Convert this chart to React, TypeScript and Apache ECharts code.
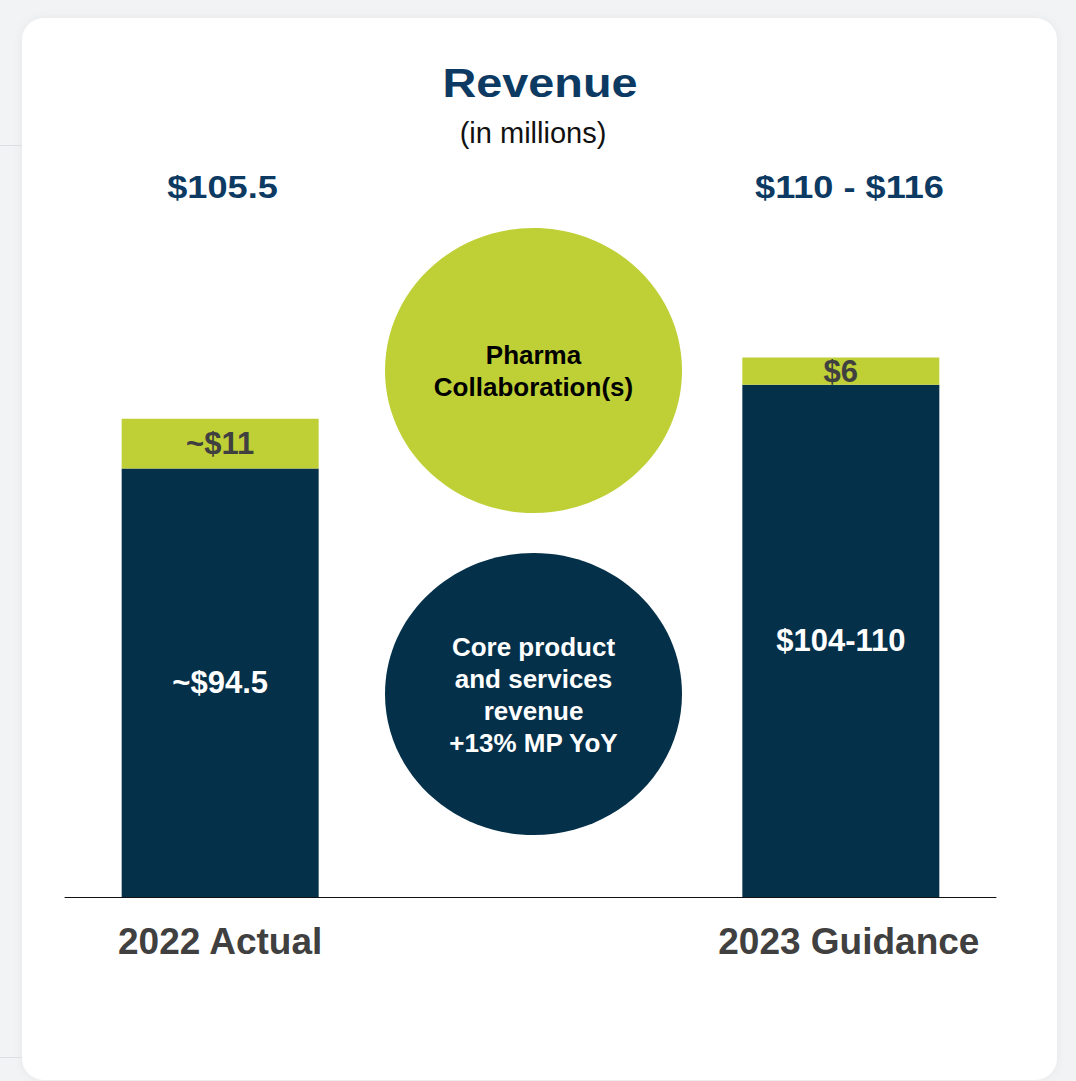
import React, { useEffect, useRef } from "react";
import * as echarts from "echarts";

const categories = ["2022 Actual", "", "2023 Guidance"];
const coreValues = [94.5, null, 113];
const pharmaValues = [11, null, 6];
const coreLabels = ["~$94.5", "", "$104-110"];
const pharmaLabels = ["~$11", "", "$6"];
const totalLabels = ["$105.5", "$110 - $116"];
const titleText = "Revenue";
const subtitleText = "(in millions)";
const pharmaCircleLines = ["Pharma", "Collaboration(s)"];
const coreCircleLines = ["Core product", "and services", "revenue", "+13% MP YoY"];

const NAVY = "#04304a";
const GREEN = "#bfd036";
const TITLE = "#0c3a62";
const GRAY = "#404040";
const FONT = "'Liberation Sans', Arial, Helvetica, sans-serif";

export default function App() {
  const ref = useRef<HTMLDivElement>(null);
  useEffect(() => {
    if (!ref.current) return;
    const chart = echarts.init(ref.current, undefined, { renderer: "svg" });
    const option: any = {
      animation: false,
      backgroundColor: "#f1f3f5",
      textStyle: { fontFamily: FONT },
      grid: { left: 65, right: 80, top: 353, bottom: 184, containLabel: false },
      xAxis: {
        type: "category",
        data: categories.map((c, i) =>
          i === 2 ? { value: c, textStyle: { padding: [0, 0, 0, 16] } } : c
        ),
        axisLine: { show: true, lineStyle: { color: "#111", width: 1 } },
        axisTick: { show: false },
        axisLabel: {
          margin: 26,
          fontSize: 37,
          fontWeight: "bold",
          color: GRAY,
          fontFamily: FONT,
          lineHeight: 37,
          interval: 0,
        },
        z: 5,
      },
      yAxis: { type: "value", min: 0, max: 120, show: false, splitLine: { show: false } },
      series: [
        {
          type: "bar",
          stack: "rev",
          data: coreValues,
          barWidth: 197,
          itemStyle: { color: NAVY },
          label: {
            show: true,
            position: "inside",
            color: "#ffffff",
            fontSize: 31,
            fontWeight: "bold",
            fontFamily: FONT,
            formatter: (p: any) => coreLabels[p.dataIndex],
          },
        },
        {
          type: "bar",
          stack: "rev",
          data: pharmaValues,
          barWidth: 197,
          itemStyle: { color: GREEN },
          label: {
            show: true,
            position: "inside",
            color: GRAY,
            fontSize: 31,
            fontWeight: "bold",
            fontFamily: FONT,
            formatter: (p: any) => pharmaLabels[p.dataIndex],
          },
        },
      ],
      graphic: [
        {
          type: "rect",
          z: -10,
          shape: { x: 22, y: 18, width: 1035, height: 1062, r: 22 },
          style: { fill: "#ffffff", shadowBlur: 10, shadowColor: "rgba(0,0,0,0.05)" },
        },
        { type: "line", z: -10, shape: { x1: 0, y1: 145.5, x2: 22, y2: 145.5 }, style: { stroke: "#dcdee1", lineWidth: 1 } },
        { type: "line", z: -10, shape: { x1: 0, y1: 1057.5, x2: 22, y2: 1057.5 }, style: { stroke: "#dcdee1", lineWidth: 1 } },
        {
          type: "text",
          x: 540,
          y: 83,
          scaleX: 1.17,
          style: { text: titleText, fontSize: 40, fontWeight: "bold", fill: TITLE, align: "center", verticalAlign: "middle", fontFamily: FONT },
        },
        {
          type: "text",
          x: 533,
          y: 133,
          style: { text: subtitleText, fontSize: 29, fill: "#111", align: "center", verticalAlign: "middle", fontFamily: FONT },
        },
        {
          type: "text",
          x: 222.5,
          y: 187,
          scaleX: 1.13,
          style: { text: totalLabels[0], fontSize: 32, fontWeight: "bold", fill: TITLE, align: "center", verticalAlign: "middle", fontFamily: FONT },
        },
        {
          type: "text",
          x: 849.5,
          y: 187,
          scaleX: 1.13,
          style: { text: totalLabels[1], fontSize: 32, fontWeight: "bold", fill: TITLE, align: "center", verticalAlign: "middle", fontFamily: FONT },
        },
        {
          type: "ellipse",
          shape: { cx: 533.5, cy: 370.5, rx: 148.5, ry: 142.5 },
          style: { fill: GREEN },
        },
        {
          type: "text",
          x: 533.5,
          y: 371,
          style: {
            text: pharmaCircleLines.join("\n"),
            fontSize: 26,
            lineHeight: 32,
            fontWeight: "bold",
            fill: "#000000",
            align: "center",
            verticalAlign: "middle",
            fontFamily: FONT,
          },
        },
        {
          type: "ellipse",
          shape: { cx: 533.5, cy: 694, rx: 148.5, ry: 141 },
          style: { fill: NAVY },
        },
        {
          type: "text",
          x: 533.5,
          y: 695,
          style: {
            text: coreCircleLines.join("\n"),
            fontSize: 26,
            lineHeight: 32,
            fontWeight: "bold",
            fill: "#ffffff",
            align: "center",
            verticalAlign: "middle",
            fontFamily: FONT,
          },
        },
      ],
    };
    chart.setOption(option);
    return () => chart.dispose();
  }, []);
  return (
    <div
      ref={ref}
      style={{ position: "fixed", left: 0, top: 0, width: 1076, height: 1081 }}
    />
  );
}
